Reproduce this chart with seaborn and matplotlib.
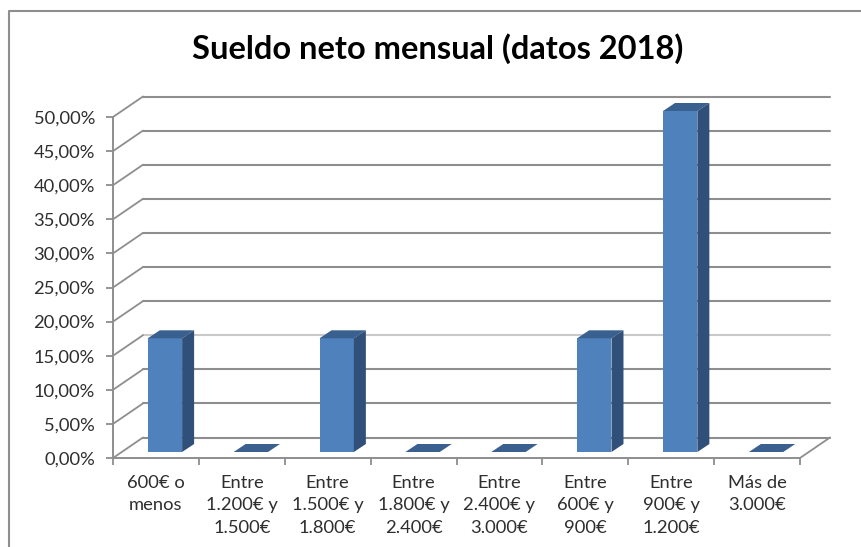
import numpy as np
import pandas as pd
import matplotlib
matplotlib.use("Agg")
import matplotlib.pyplot as plt
from matplotlib.patches import Polygon
from matplotlib.lines import Line2D
import seaborn as sns

# Data
categories = ["600€ o\nmenos", "Entre\n1.200€ y\n1.500€", "Entre\n1.500€ y\n1.800€",
              "Entre\n1.800€ y\n2.400€", "Entre\n2.400€ y\n3.000€", "Entre\n600€ y\n900€",
              "Entre\n900€ y\n1.200€", "Más de\n3.000€"]
values = [16.67, 0, 16.67, 0, 0, 16.67, 50, 0]
y_ticks = [0, 5, 10, 15, 20, 25, 30, 35, 40, 45, 50]
title = "Sueldo neto mensual (datos 2018)"

W, H = 861, 547
GRID = "#8e8e8e"
TEXT = "#2e2e2e"
FRONT, SIDE, TOP = "#4f81bd", "#315079", "#3a6090"

sns.set_theme(style="white")
plt.rcParams["font.family"] = ["Lato", "DejaVu Sans"]

fig = plt.figure(figsize=(W / 100, H / 100), dpi=100)
# axes covers the front plane of the fake 3D box
left, right, top, bottom = 113, 800, 117, 458
ax = fig.add_axes([left / W, 1 - bottom / H, (right - left) / W, (bottom - top) / H])

df = pd.DataFrame({"cat": categories, "val": values})
sns.barplot(data=df, x="cat", y="val", color=FRONT, saturation=1, width=0.4, ax=ax, zorder=5,
            linewidth=0, edgecolor="none")
ax.set_xlim(-0.5, len(categories) - 0.5)
ax.set_ylim(0, 50)

# pixel sizes to data units
px_x = (len(categories)) / (right - left)
px_y = 50 / (bottom - top)
wall_dx, wall_dy = 30 * px_x, 20.5 * px_y
bar_dx, bar_dy = 12 * px_x, 8 * px_y
shift_x, shift_y = 9 * px_x, 6 * px_y

# back wall and side wall lines
for v in y_ticks:
    col = "#c9c9c9" if v == 15 else GRID
    ax.add_line(Line2D([-0.5 + wall_dx, 7.5 + wall_dx], [v + wall_dy] * 2, color=col, lw=1.5,
                       clip_on=False, zorder=1))
    ax.add_line(Line2D([-0.5, -0.5 + wall_dx], [v, v + wall_dy], color=GRID, lw=1.3,
                       clip_on=False, zorder=1))
ax.add_line(Line2D([7.5, 7.5 + wall_dx], [0, wall_dy], color=GRID, lw=1.3, clip_on=False, zorder=1))

# move the bars off the front plane and add top and side faces
for patch in list(ax.patches):
    patch.set_x(patch.get_x() + shift_x)
    patch.set_y(shift_y)
    patch.set_clip_on(False)
    x0, x1 = patch.get_x(), patch.get_x() + patch.get_width()
    y0, y1 = shift_y, shift_y + patch.get_height()
    ax.add_patch(Polygon([(x0, y1), (x1, y1), (x1 + bar_dx, y1 + bar_dy), (x0 + bar_dx, y1 + bar_dy)],
                         fc=TOP, ec="none", clip_on=False, zorder=5))
    if y1 > y0:
        ax.add_patch(Polygon([(x1, y0), (x1 + bar_dx, y0 + bar_dy), (x1 + bar_dx, y1 + bar_dy), (x1, y1)],
                             fc=SIDE, ec="none", clip_on=False, zorder=5))

# axes and ticks
sns.despine(ax=ax, top=True, right=True)
for side in ["left", "bottom"]:
    ax.spines[side].set_color(GRID)
    ax.spines[side].set_linewidth(1.4)
ax.set_yticks(y_ticks)
ax.set_yticklabels([("%.2f%%" % v).replace(".", ",") for v in y_ticks])
ax.set_xticks(range(len(categories)))
ax.set_xticklabels(categories, linespacing=1.52)
ax.set_xticks(np.arange(-0.5, len(categories)), minor=True)
ax.tick_params(axis="y", length=5, width=1.3, color=GRID, labelsize=13.2, labelcolor=TEXT, pad=8, left=True)
ax.tick_params(axis="x", which="major", length=0, labelsize=13.2, labelcolor=TEXT, pad=12)
ax.tick_params(axis="x", which="minor", length=5, width=1.3, color=GRID, bottom=True)
ax.set_xlabel("")
ax.set_ylabel("")
ax.patch.set_alpha(0)

fig.text(437.5 / W, 1 - 49 / H, title, ha="center", va="center", fontsize=23.5, fontweight="bold", color="black")

# chart frame, cut off at the right and bottom of the picture
fig.add_artist(Line2D([8.5 / W, 8.5 / W, 1], [0, 1 - 11 / H, 1 - 11 / H], color=GRID, lw=1.5))

fig.savefig("out.png", dpi=100)
